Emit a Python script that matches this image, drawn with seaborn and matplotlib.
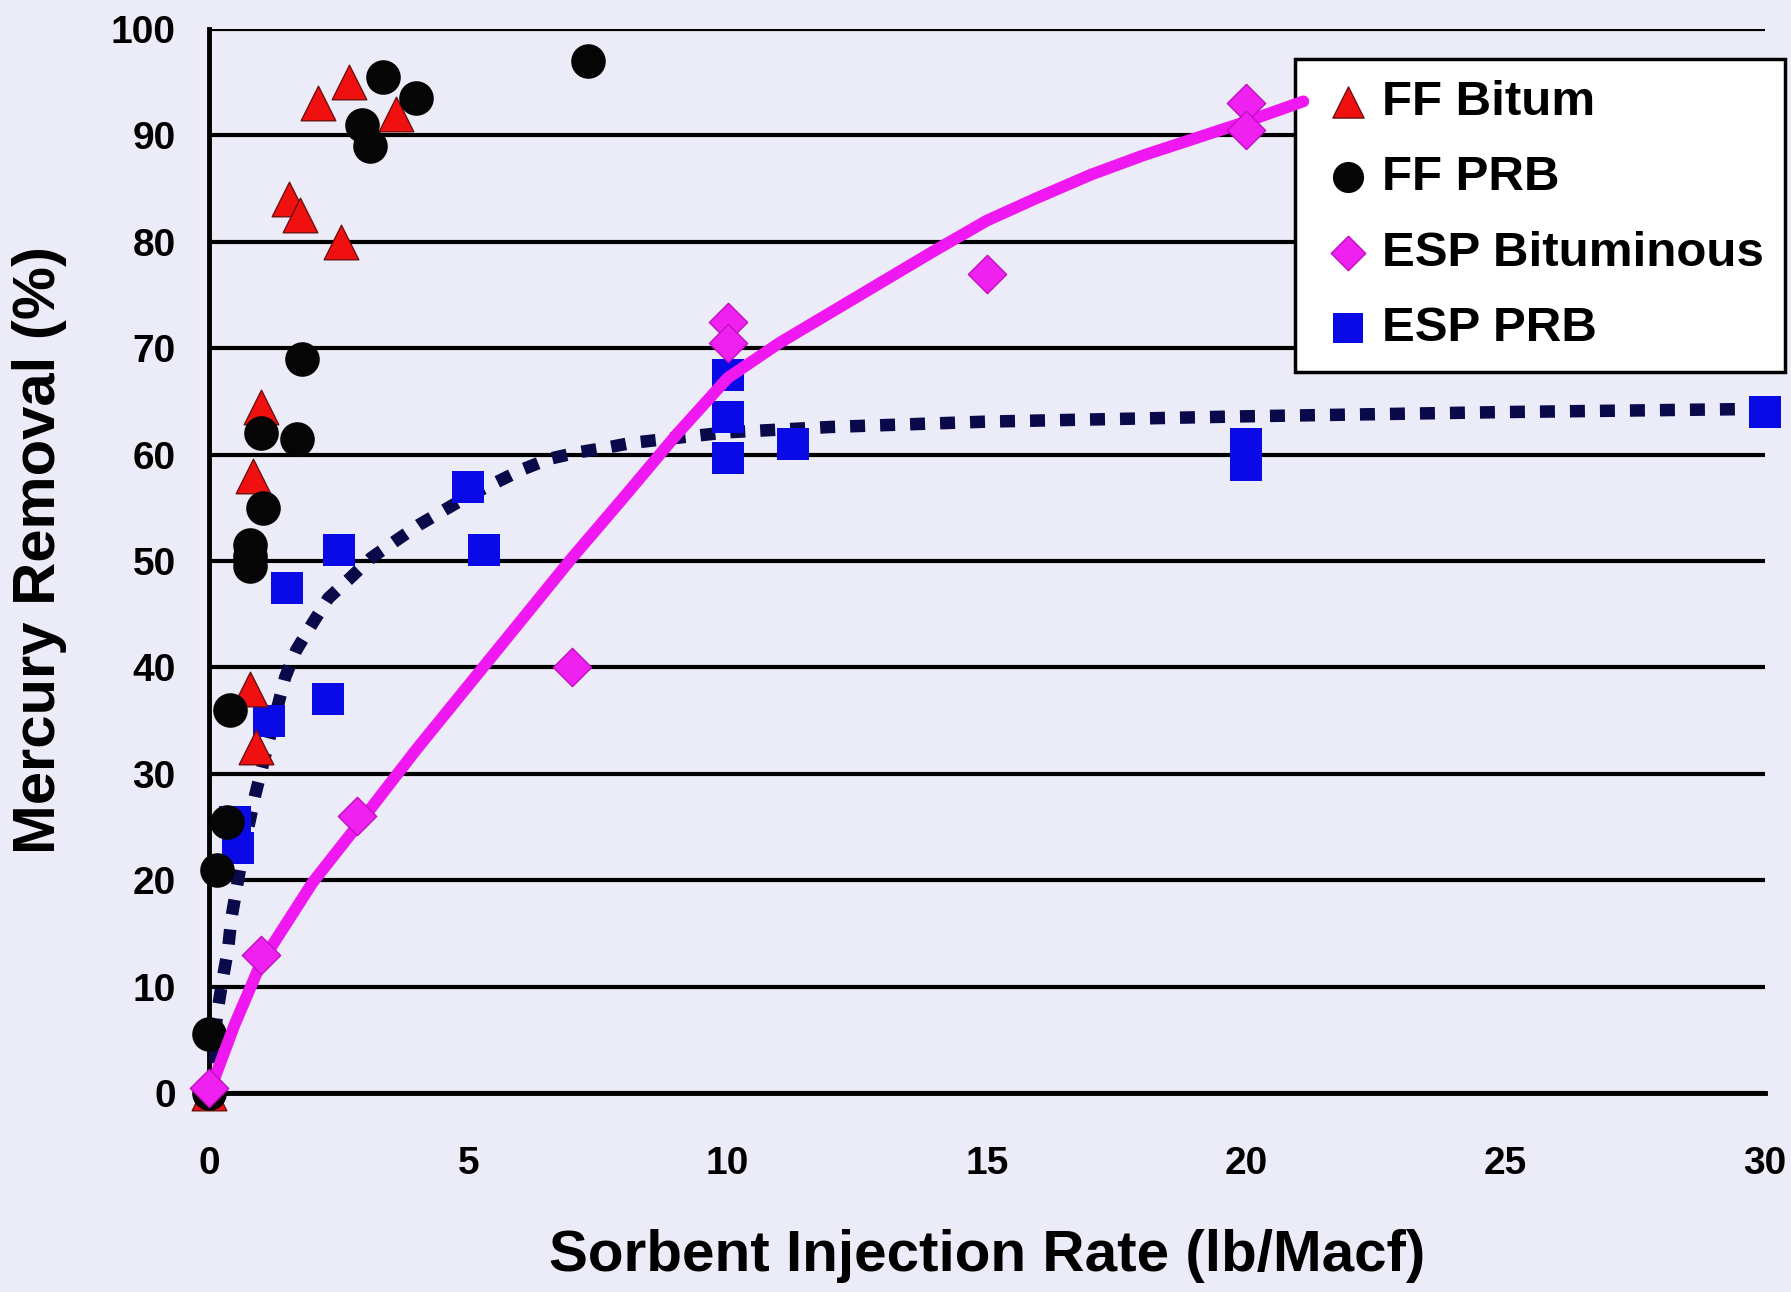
import matplotlib
matplotlib.use("Agg")
import matplotlib.pyplot as plt
import seaborn as sns

# ---- data ----
ff_bitum_x = [0.0, 0.9, 0.8, 0.85, 1.0, 1.55, 1.75, 2.55, 2.1, 2.7, 3.6]
ff_bitum_y = [0.0, 32.5, 38, 58, 64.5, 84, 82.5, 80, 93, 95, 92]

ff_prb_x = [0.0, 0.0, 0.15, 0.35, 0.4, 0.8, 0.8, 0.8, 1.05, 1.0, 1.7, 1.8, 2.95, 3.1, 3.35, 4.0, 7.3]
ff_prb_y = [0.0, 5.5, 21, 25.5, 36, 49.5, 50.5, 51.5, 55, 62, 61.5, 69, 91, 89, 95.5, 93.5, 97]

esp_bit_x = [0.0, 1.0, 2.85, 7.0, 10.0, 10.0, 15.0, 20.0, 20.0]
esp_bit_y = [0.5, 13, 26, 40, 72.5, 70.5, 77, 93, 90.5]

esp_prb_x = [0.5, 0.55, 1.15, 1.5, 2.3, 2.5, 5.0, 5.3, 10.0, 10.0, 10.0, 11.25, 20.0, 20.0, 30.0]
esp_prb_y = [25.5, 23, 35, 47.5, 37, 51, 57, 51, 67.5, 63.5, 59.7, 61, 61, 59, 64]

# trend curves
bit_fit_x = [0, 0.5, 1, 2, 3, 4, 5, 6, 7, 8, 9, 10, 11, 12, 13, 14, 15, 16, 17, 18, 19, 20, 21.1]
bit_fit_y = [0, 6.5, 12.2, 19.8, 26, 32.3, 38.3, 44.3, 50.3, 56, 61.8, 67.2, 70.5, 73.4,
             76.3, 79.2, 82, 84.2, 86.3, 88.1, 89.7, 91.3, 93.2]

prb_fit_x = [0, 0.16, 0.26, 0.37, 0.43, 0.65, 0.89, 1.2, 1.47, 1.68, 1.99, 2.3, 2.7, 3.13,
             3.57, 4.05, 4.54, 5.04, 5.54, 6.04, 6.56, 7.1, 7.6, 8.15, 9.25, 10, 12, 15,
             20, 25, 30]
prb_fit_y = [0, 7.6, 10.6, 13.6, 16.4, 22.5, 28, 34, 39.1, 41.6, 44.1, 46.5, 48.3, 50.3,
             51.8, 53.4, 54.8, 56.2, 57.4, 58.6, 59.6, 60.2, 60.6, 61.1, 61.7, 62.1, 62.6,
             63.1, 63.6, 64, 64.3]

x_ticks = [0, 5, 10, 15, 20, 25, 30]
y_ticks = [0, 10, 20, 30, 40, 50, 60, 70, 80, 90, 100]

bg = "#ECECF8"

sns.set_style("white")
plt.rcParams["font.family"] = ["Liberation Sans", "DejaVu Sans"]
plt.rcParams["font.weight"] = "bold"
plt.rcParams["text.color"] = "black"
plt.rcParams["axes.labelcolor"] = "black"
plt.rcParams["xtick.color"] = "black"
plt.rcParams["ytick.color"] = "black"

fig = plt.figure(figsize=(17.91, 12.92), dpi=100, facecolor=bg)
ax = fig.add_axes([209 / 1791, 1 - 1093 / 1292, 1556 / 1791, 1064 / 1292])
ax.set_facecolor(bg)

# trend lines
sns.lineplot(x=prb_fit_x, y=prb_fit_y, ax=ax, color="#0A0A4A", lw=9,
             sort=False, estimator=None, zorder=3)
ax.lines[-1].set_dashes([1.2, 1.2])
ax.lines[-1].set_dash_capstyle("butt")

sns.lineplot(x=bit_fit_x, y=bit_fit_y, ax=ax, color="#F018F0", lw=8.5,
             sort=False, estimator=None, zorder=6)
ax.lines[-1].set_clip_on(False)
ax.lines[-1].set_solid_joinstyle("round")

# scatter series
sns.scatterplot(x=esp_prb_x, y=esp_prb_y, ax=ax, marker="s", s=560, color="#0A0AE6",
                linewidth=0, label="ESP PRB", zorder=4, clip_on=False)
sns.scatterplot(x=ff_bitum_x, y=ff_bitum_y, ax=ax, marker="^", s=620, color="#F01010",
                edgecolor="#701010", linewidth=1, label="FF Bitum", zorder=5, clip_on=False)
sns.scatterplot(x=ff_prb_x, y=ff_prb_y, ax=ax, marker="o", s=620, color="#050505",
                linewidth=0, label="FF PRB", zorder=5, clip_on=False)
sns.scatterplot(x=esp_bit_x, y=esp_bit_y, ax=ax, marker="D", s=380, color="#F020F0",
                edgecolor="#C010C0", linewidth=1, label="ESP Bituminous", zorder=7, clip_on=False)

ax.set_xlim(0, 30)
ax.set_ylim(0, 100)
ax.set_xticks(x_ticks)
ax.set_yticks(y_ticks)
ax.yaxis.grid(True, color="black", lw=3)
ax.xaxis.grid(False)
ax.set_axisbelow(True)

for side in ["top", "right"]:
    ax.spines[side].set_visible(False)
for side in ["left", "bottom"]:
    ax.spines[side].set_color("black")
    ax.spines[side].set_linewidth(3.5)

ax.tick_params(axis="y", direction="out", length=11, width=3, color="black",
               labelsize=28, pad=13)
ax.tick_params(axis="x", direction="out", length=11, width=2, color="black",
               labelsize=28, pad=27)
for lab in ax.get_xticklabels() + ax.get_yticklabels():
    lab.set_fontweight("bold")

ax.set_xlabel("Sorbent Injection Rate (lb/Macf)", fontsize=42, fontweight="bold")
ax.set_ylabel("Mercury Removal (%)", fontsize=43, fontweight="bold")
ax.xaxis.set_label_coords(0.5, -0.128)
ax.yaxis.set_label_coords(-0.091, 0.51)

handles, labels = ax.get_legend_handles_labels()
order = ["FF Bitum", "FF PRB", "ESP Bituminous", "ESP PRB"]
hmap = dict(zip(labels, handles))
leg = ax.legend([hmap[k] for k in order], order, loc="upper right",
                bbox_to_anchor=(1785 / 1791, 1 - 59 / 1292), bbox_transform=fig.transFigure,
                fontsize=35.5, frameon=True, fancybox=False, framealpha=1,
                facecolor="white", edgecolor="black", borderpad=0.42,
                labelspacing=0.62, handlelength=1.3, handletextpad=0.05,
                borderaxespad=0, markerscale=0.9)
leg.get_frame().set_linewidth(2.5)
leg.set_zorder(5.5)
for t in leg.get_texts():
    t.set_fontweight("bold")

fig.savefig("out.png", dpi=100, facecolor=bg)
